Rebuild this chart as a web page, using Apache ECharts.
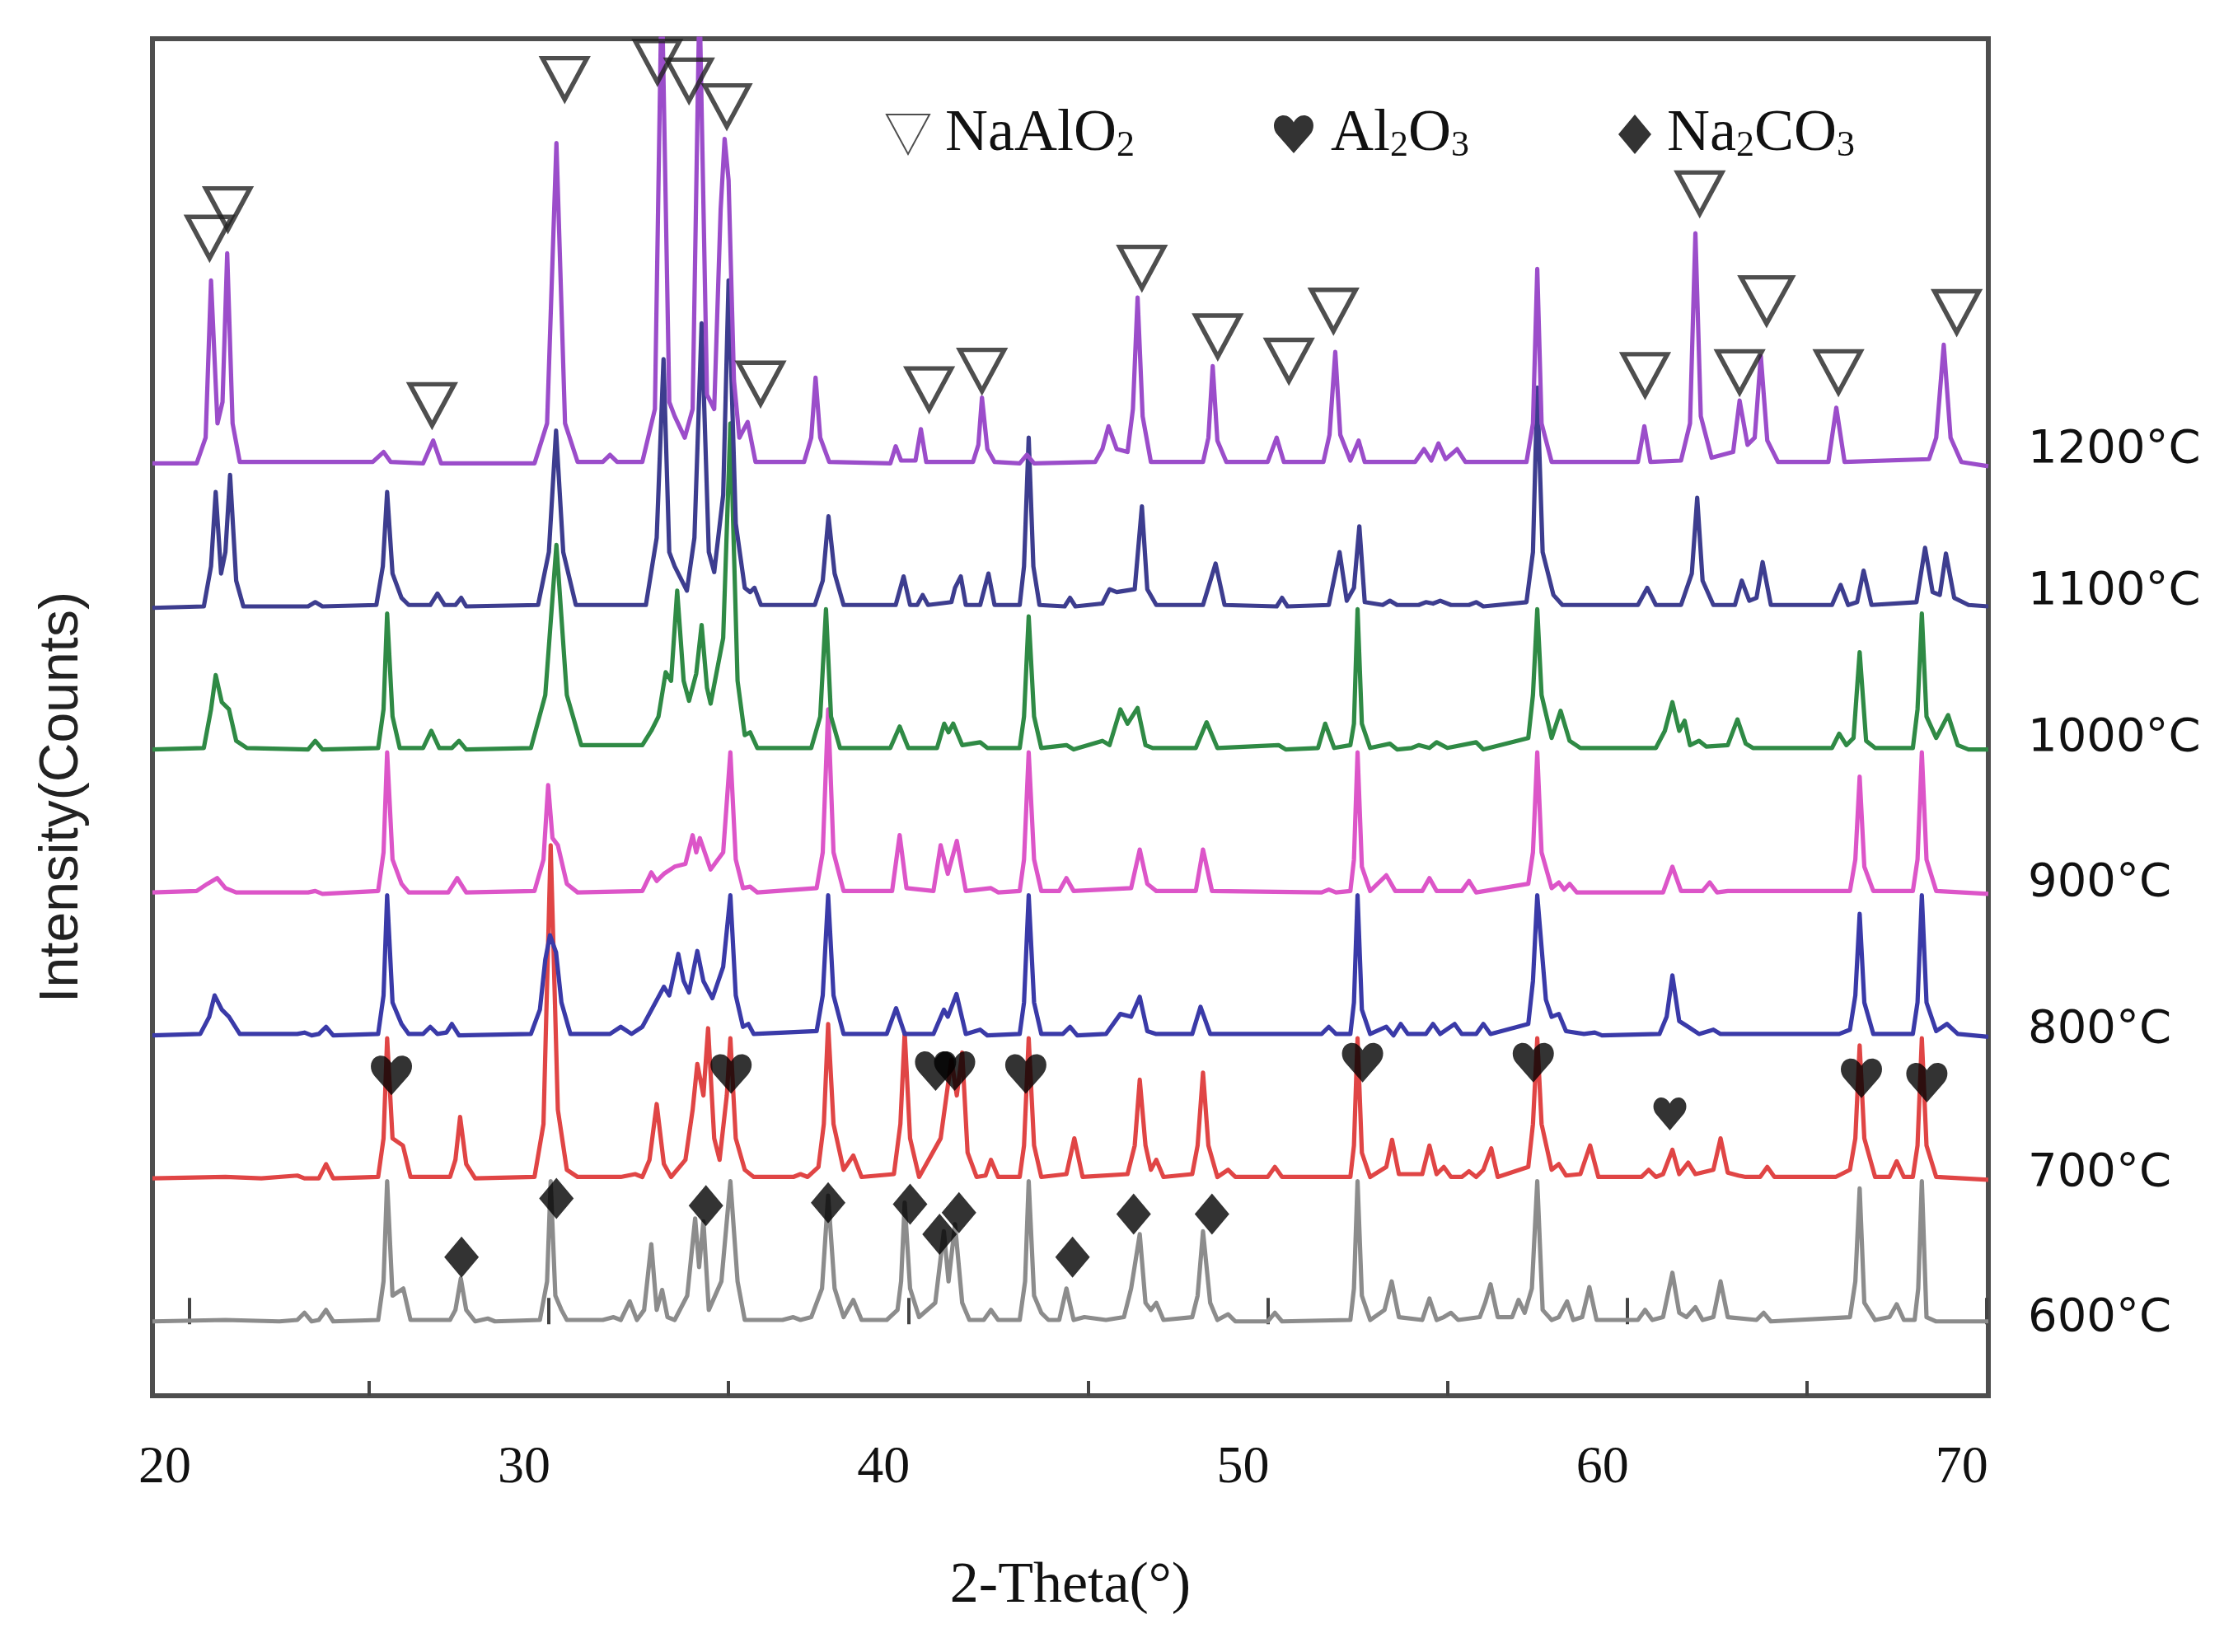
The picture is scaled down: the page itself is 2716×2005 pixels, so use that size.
<!DOCTYPE html>
<html>
<head>
<meta charset="utf-8">
<title>XRD patterns 600-1200°C</title>
<script src="https://cdn.jsdelivr.net/npm/echarts@6.0.0/dist/echarts.min.js"></script>
<style>
  html, body { margin: 0; padding: 0; background: #fff; }
  #chart { width: 2716px; height: 2005px; }
</style>
</head>
<body>
<div id="chart"></div>
<script>
// [2-theta, counts above the pattern's own baseline]
const trace600 = [[18.97,2],[21.0,3],[22.5,2],[23.0,3],[23.2,8],[23.4,2],[23.6,3],[23.8,10],[24.0,2],
  [25.25,3],[25.4,30],[25.5,100],[25.65,20],[25.95,25],[26.15,3],
  [27.25,3],[27.4,10],[27.55,32],[27.7,10],[27.95,2],[28.3,4],[28.5,2],
  [29.75,3],[29.95,30],[30.05,100],[30.18,20],[30.35,10],[30.5,3],
  [31.5,3],[31.8,5],[32.0,3],[32.25,16],[32.45,3],[32.65,10],[32.85,56],[33.0,10],[33.15,24],[33.3,5],[33.5,3],
  [33.85,20],[34.07,74],[34.18,40],[34.3,72],[34.45,10],[34.8,30],[35.05,100],[35.25,30],[35.45,3],
  [36.5,3],[36.8,5],[37.0,3],[37.3,5],[37.6,25],[37.77,90],[37.95,25],[38.2,5],[38.47,17],[38.7,3],
  [39.4,3],[39.7,10],[39.8,30],[39.9,85],[40.05,25],[40.3,5],
  [40.75,15],[40.99,65],[41.12,30],[41.3,70],[41.5,15],[41.7,3],[42.1,3],[42.3,10],[42.5,3],
  [43.1,3],[43.25,30],[43.35,100],[43.5,20],[43.7,8],[43.9,3],
  [44.2,3],[44.4,25],[44.6,3],[44.9,5],[45.5,3],
  [46.0,5],[46.2,25],[46.44,63],[46.6,15],[46.75,10],[46.9,15],[47.1,3],
  [47.9,5],[48.05,20],[48.2,65],[48.4,15],[48.6,3],[48.9,7],[49.1,2],[50.0,2],[50.2,8],[50.4,2],
  [52.3,3],[52.4,25],[52.5,100],[52.62,20],[52.85,3],[53.25,10],[53.45,30],[53.65,5],
  [54.3,3],[54.5,18],[54.7,3],[54.9,5],[55.1,8],[55.3,3],[55.9,5],[56.05,15],[56.2,28],[56.4,5],
  [56.8,5],[56.98,17],[57.15,8],[57.35,25],[57.5,100],[57.65,10],[57.9,3],
  [58.1,5],[58.33,16],[58.5,3],[58.75,5],[58.95,26],[59.15,3],
  [60.3,3],[60.5,10],[60.7,3],[61.0,5],[61.26,36],[61.45,8],[61.65,5],[61.9,12],[62.1,3],[62.4,5],[62.6,30],[62.8,5],[63.6,3],[63.8,8],[64.0,2],
  [66.2,5],[66.35,30],[66.47,95],[66.6,15],[66.9,3],[67.3,5],[67.5,14],[67.7,3],
  [68.0,3],[68.1,25],[68.2,100],[68.33,5],[68.6,2],[70.05,2]];

const trace700 = [[18.97,2],[21.0,3],[22.0,2],[23.0,4],[23.2,2],[23.6,2],[23.8,12],[24.0,2],
  [25.25,3],[25.4,30],[25.5,100],[25.65,30],[25.94,25],[26.15,3],
  [27.25,3],[27.4,15],[27.53,45],[27.7,12],[27.95,2],
  [29.6,3],[29.85,40],[30.05,235],[30.25,50],[30.5,8],[30.8,3],
  [32.0,3],[32.4,5],[32.6,3],[32.8,15],[33.0,54],[33.2,12],[33.4,3],
  [33.8,15],[34.0,50],[34.13,82],[34.3,60],[34.43,107],[34.6,30],[34.75,15],[34.95,60],[35.05,100],[35.2,30],[35.45,8],[35.7,3],[36.0,3],
  [36.8,3],[37.0,5],[37.2,3],[37.5,10],[37.65,40],[37.77,110],[37.92,40],[38.2,8],[38.47,18],[38.7,3],
  [39.6,5],[39.78,40],[39.9,104],[40.05,30],[40.3,3],
  [40.9,30],[41.2,85],[41.35,60],[41.5,90],[41.65,20],[41.9,3],[42.15,4],[42.3,15],[42.5,3],
  [43.1,3],[43.22,25],[43.35,100],[43.5,25],[43.7,3],
  [44.4,5],[44.62,30],[44.85,3],
  [46.1,5],[46.3,25],[46.44,71],[46.6,25],[46.75,8],[46.9,15],[47.1,3],
  [47.9,5],[48.05,25],[48.2,76],[48.35,25],[48.6,3],
  [48.9,8],[49.1,3],[50.0,3],[50.2,10],[50.4,3],[51.0,3],
  [52.3,3],[52.4,25],[52.5,100],[52.62,20],[52.85,3],[53.3,10],[53.46,29],[53.65,5],
  [54.3,5],[54.5,25],[54.7,5],[54.9,10],[55.1,3],[55.4,3],[55.6,7],[55.8,3],[56.0,8],[56.22,23],[56.4,3],
  [57.25,10],[57.38,40],[57.5,100],[57.62,40],[57.9,8],[58.1,12],[58.3,4],[58.7,5],[58.97,25],[59.2,3],
  [60.4,3],[60.6,8],[60.8,3],[61.0,5],[61.26,22],[61.45,5],[61.7,13],[61.9,5],[62.4,8],[62.6,30],[62.8,6],[63.1,4],[63.3,3],[63.7,3],[63.9,10],[64.1,3],
  [65.8,3],[66.2,8],[66.35,30],[66.47,95],[66.6,30],[66.9,3],
  [67.3,3],[67.5,14],[67.7,3],
  [67.95,3],[68.08,25],[68.2,100],[68.33,25],[68.6,3],[70.05,1]];

const trace800 = [[18.97,2],[20.3,3],[20.55,15],[20.7,30],[20.9,20],[21.1,15],[21.4,3],
  [23.0,3],[23.2,4],[23.4,2],[23.6,3],[23.8,8],[24.0,2],
  [25.25,3],[25.4,30],[25.5,100],[25.65,25],[25.9,10],[26.1,3],[26.5,3],[26.7,8],[26.9,3],[27.15,4],[27.3,10],[27.5,2],
  [29.5,3],[29.75,20],[29.9,55],[30.03,72],[30.2,60],[30.35,25],[30.6,3],
  [31.7,3],[32.0,8],[32.3,3],[32.6,8],[32.9,22],[33.2,36],[33.35,30],[33.6,59],[33.75,40],[33.9,32],[34.13,61],[34.3,40],[34.55,28],[34.85,50],[35.05,100],[35.2,30],[35.4,8],[35.55,10],[35.7,3],
  [37.45,5],[37.62,30],[37.77,100],[37.92,30],[38.2,3],
  [39.4,3],[39.66,21],[39.9,3],[40.7,3],[40.99,20],[41.1,15],[41.34,31],[41.6,3],[42.0,6],[42.2,2],
  [43.1,3],[43.22,25],[43.35,100],[43.5,25],[43.7,3],
  [44.3,3],[44.5,8],[44.7,2],[45.5,3],[45.9,17],[46.2,15],[46.44,29],[46.65,5],[46.9,3],
  [47.9,3],[48.13,22],[48.4,3],
  [51.5,3],[51.7,8],[51.9,3],[52.3,3],[52.4,25],[52.5,100],[52.62,20],[52.85,3],[53.3,8],[53.5,2],
  [53.7,10],[53.9,3],[54.4,3],[54.6,10],[54.8,3],[55.2,10],[55.4,3],[55.8,3],[56.0,10],[56.2,3],
  [57.25,10],[57.38,40],[57.5,100],[57.74,27],[57.9,15],[58.1,17],[58.3,5],[58.8,3],[59.1,4],[59.3,2],
  [60.9,3],[61.1,15],[61.26,44],[61.45,12],[61.7,8],[62.0,3],[62.4,6],[62.6,3],[63.5,3],
  [65.9,3],[66.2,6],[66.35,30],[66.47,87],[66.6,25],[66.85,3],
  [67.95,3],[68.08,25],[68.2,100],[68.33,25],[68.6,5],[68.9,10],[69.2,3],[70.05,1]];

const trace900 = [[18.97,2],[20.2,3],[20.5,8],[20.77,12],[21.0,5],[21.3,2],
  [23.3,2],[23.5,3],[23.7,1],
  [25.25,3],[25.4,30],[25.5,100],[25.65,25],[25.9,8],[26.1,2],
  [27.2,2],[27.45,12],[27.7,2],
  [29.6,3],[29.85,25],[29.98,77],[30.1,40],[30.25,35],[30.5,8],[30.8,2],
  [32.6,3],[32.85,16],[33.0,10],[33.2,15],[33.5,20],[33.8,22],[34.0,42],[34.1,30],[34.2,40],[34.5,18],[34.85,30],[35.05,100],[35.2,25],[35.4,5],[35.6,6],[35.8,2],
  [37.45,5],[37.62,30],[37.77,130],[37.92,30],[38.2,3],
  [39.55,3],[39.76,42],[39.95,5],[40.7,3],[40.9,35],[41.1,15],[41.35,38],[41.6,3],[42.3,5],[42.5,2],
  [43.1,3],[43.22,25],[43.35,100],[43.5,25],[43.7,3],
  [44.2,3],[44.4,12],[44.6,3],[46.2,5],[46.44,32],[46.65,8],[46.9,3],[48.0,3],[48.2,32],[48.45,3],
  [51.5,2],[51.7,4],[51.9,2],[52.3,3],[52.4,25],[52.5,100],[52.62,20],[52.85,3],[53.3,14],[53.55,3],
  [54.3,3],[54.5,12],[54.7,3],[55.4,3],[55.6,10],[55.8,2],
  [57.25,8],[57.38,30],[57.5,100],[57.62,30],[57.9,5],[58.1,9],[58.25,4],[58.4,8],[58.6,2],
  [61.0,2],[61.26,20],[61.5,3],[62.1,3],[62.3,9],[62.5,2],[62.8,3],
  [66.2,3],[66.35,25],[66.47,83],[66.6,20],[66.85,3],
  [67.95,3],[68.08,25],[68.2,100],[68.33,25],[68.6,3],[70.05,1]];

const trace1000 = [[18.97,2],[20.4,3],[20.6,30],[20.73,54],[20.9,35],[21.1,30],[21.3,8],[21.6,3],
  [23.3,2],[23.5,8],[23.7,2],
  [25.25,3],[25.4,30],[25.5,97],[25.65,25],[25.85,3],[26.5,3],[26.73,15],[26.95,3],[27.3,3],[27.5,8],[27.7,2],
  [29.5,3],[29.9,40],[30.21,145],[30.5,40],[30.9,5],
  [32.6,5],[32.85,15],[33.05,25],[33.25,56],[33.4,50],[33.57,113],[33.75,50],[33.9,36],[34.1,55],[34.25,89],[34.4,45],[34.5,34],[34.85,80],[35.05,230],[35.25,50],[35.45,12],[35.6,14],[35.8,3],
  [37.3,3],[37.55,25],[37.71,100],[37.85,25],[38.1,3],
  [39.5,3],[39.76,18],[40.0,3],[40.8,3],[41.0,20],[41.12,14],[41.25,20],[41.5,5],[42.0,7],[42.2,3],
  [43.1,3],[43.22,25],[43.35,95],[43.5,25],[43.7,3],
  [44.4,5],[44.6,2],[45.4,8],[45.6,5],[45.9,30],[46.1,20],[46.38,31],[46.6,5],[46.8,3],
  [48.0,3],[48.3,21],[48.6,3],
  [50.3,5],[50.5,2],[51.4,3],[51.6,20],[51.85,3],
  [52.3,5],[52.4,20],[52.5,100],[52.62,20],[52.85,3],[53.4,6],[53.6,2],
  [54.0,3],[54.2,5],[54.5,3],[54.7,7],[55.0,3],[55.8,7],[56.0,2],
  [57.25,10],[57.38,40],[57.5,100],[57.62,40],[57.9,10],[58.15,29],[58.4,8],[58.7,3],
  [60.8,3],[61.05,15],[61.26,35],[61.45,15],[61.6,22],[61.75,5],[62.0,8],[62.2,4],[62.8,5],[63.07,23],[63.3,6],[63.5,3],
  [65.7,3],[65.9,13],[66.1,5],[66.3,10],[66.47,70],[66.65,8],[66.9,3],
  [67.95,3],[68.08,30],[68.2,97],[68.33,25],[68.6,10],[68.93,26],[69.2,5],[69.5,2],[70.05,2]];

const trace1100 = [[18.97,1],[20.4,2],[20.6,30],[20.73,82],[20.88,25],[21.0,40],[21.13,94],[21.3,20],[21.5,2],
  [23.3,2],[23.5,5],[23.7,2],
  [25.2,3],[25.38,30],[25.5,82],[25.65,25],[25.9,8],[26.1,3],[26.7,3],[26.9,11],[27.1,3],[27.4,3],[27.56,8],[27.7,2],
  [29.7,3],[30.0,40],[30.2,125],[30.4,40],[30.75,3],
  [32.7,3],[33.0,50],[33.19,175],[33.35,40],[33.5,30],[33.84,13],[34.05,50],[34.25,200],[34.45,40],[34.6,26],[34.85,80],[35.0,230],[35.2,60],[35.45,15],[35.6,12],[35.72,15],[35.9,3],
  [37.4,3],[37.62,20],[37.78,65],[37.95,25],[38.2,3],
  [39.65,3],[39.87,23],[40.05,3],[40.25,3],[40.4,10],[40.55,3],[41.2,5],[41.3,15],[41.46,23],[41.6,3],[42.0,3],[42.23,25],[42.4,3],
  [43.1,3],[43.22,30],[43.35,120],[43.48,30],[43.65,3],
  [44.35,2],[44.5,8],[44.65,2],[45.4,4],[45.6,14],[45.8,12],[46.3,14],[46.5,72],[46.65,14],[46.9,3],
  [48.2,3],[48.55,32],[48.8,3],
  [50.25,2],[50.4,8],[50.55,2],
  [51.7,3],[52.0,40],[52.2,6],[52.4,15],[52.55,58],[52.7,5],
  [53.2,3],[53.4,6],[53.6,3],[54.2,3],[54.4,5],[54.6,4],[54.8,6],[55.1,3],[55.6,3],[55.8,5],[56.0,2],
  [57.2,5],[57.38,40],[57.5,155],[57.65,40],[57.95,10],[58.2,3],
  [60.3,3],[60.56,15],[60.8,3],[61.5,3],[61.8,25],[61.95,78],[62.1,20],[62.4,3],
  [63.0,3],[63.19,20],[63.4,6],[63.6,8],[63.77,33],[64.0,3],
  [65.7,3],[65.94,17],[66.15,3],[66.4,5],[66.58,27],[66.8,3],
  [68.05,5],[68.29,43],[68.5,12],[68.7,10],[68.87,39],[69.1,8],[69.5,3],[70.05,2]];

const trace1200 = [[18.97,2],[20.2,2],[20.45,20],[20.6,130],[20.78,30],[20.92,45],[21.05,149],[21.2,30],[21.4,3],
  [23.6,3],[25.1,3],[25.4,10],[25.6,3],
  [26.5,2],[26.78,18],[27.0,2],
  [29.6,2],[29.95,30],[30.21,226],[30.45,30],[30.8,3],
  [31.5,3],[31.7,8],[31.9,3],
  [32.6,3],[32.95,40],[33.14,340],[33.35,45],[33.5,35],[33.78,20],[34.0,40],[34.19,330],[34.4,50],[34.6,40],[34.78,180],[34.89,229],[35.0,200],[35.15,60],[35.3,20],[35.53,31],[35.75,3],
  [37.1,3],[37.3,20],[37.42,62],[37.55,20],[37.8,3],
  [39.5,2],[39.65,14],[39.8,4],[40.2,4],[40.35,26],[40.5,3],
  [41.8,3],[41.95,15],[42.05,48],[42.2,12],[42.4,3],
  [43.1,2],[43.3,8],[43.5,2],
  [45.2,3],[45.4,12],[45.57,28],[45.8,12],[46.1,10],[46.25,40],[46.38,118],[46.52,35],[46.75,3],
  [48.2,3],[48.35,20],[48.47,70],[48.6,18],[48.85,3],
  [50.0,3],[50.25,20],[50.45,3],
  [51.55,3],[51.72,22],[51.88,80],[52.02,22],[52.3,4],[52.53,18],[52.7,3],
  [54.1,3],[54.35,12],[54.55,4],[54.75,16],[54.95,5],[55.27,12],[55.5,3],
  [57.2,3],[57.38,30],[57.5,138],[57.62,30],[57.9,3],
  [60.3,3],[60.48,28],[60.65,3],
  [61.5,4],[61.75,30],[61.9,163],[62.05,35],[62.35,6],
  [62.95,10],[63.13,46],[63.35,15],[63.55,20],[63.72,77],[63.9,18],[64.2,3],
  [65.6,3],[65.82,41],[66.05,3],
  [68.4,5],[68.6,20],[68.81,85],[69.0,20],[69.3,3],[70.05,0]];

const temps = ['600°C', '700°C', '800°C', '900°C', '1000°C', '1100°C', '1200°C'];
const traces = [trace600, trace700, trace800, trace900, trace1000, trace1100, trace1200];
// vertical stacking of the patterns, in counts
const baselineOffsets = [0, 100, 200, 300, 400, 500, 600];
const traceColors = ['#8c8c8c', '#e04545', '#3a3aa8', '#dc55c8', '#2f8a45', '#3d3d8f', '#9b4dca'];
const labelShift = [-3, -7, -8, -12, -13, -18, -19];

// phase markers [2-theta, stacked counts]
const naAlO2Marks = [[20.56,760],[21.07,780],[26.75,643],[30.44,871],[33.02,883],[33.9,870],[34.95,852],
  [35.89,658],[40.58,654],[42.05,667],[46.5,739],[48.61,691],[50.59,674],[51.83,709],
  [62.02,791],[60.5,664],[63.88,716],[63.13,666],[65.88,666],[69.17,708]];
const al2o3Marks = [[25.62,174],[35.07,175],[40.76,177],[41.29,177],[43.27,175],[52.64,183],
  [57.39,183],[61.19,147],[66.52,172],[68.34,169]];
const na2co3Marks = [[27.57,47],[30.21,88],[34.37,83],[37.77,85],[40.05,84],[40.87,63],
  [41.41,78],[44.57,47],[46.27,77],[48.45,77]];

const majorTicks = [20, 30, 40, 50, 60, 70];
const minorTicks = [25, 35, 45, 55, 65];

const trianglePath = 'path://M0,0L100,0L50,92Z';
const heartPath = 'path://M50,95L12,52C0,39 0,18 14,9C28,1 42,8 50,22C58,8 72,1 86,9C100,18 100,39 88,52Z';

const chart = echarts.init(document.getElementById('chart'));

const serif = "'Liberation Serif', 'Times New Roman', serif";

const toRich = (name) => name.split(/(\d)/).filter(Boolean)
  .map(p => /\d/.test(p) ? `{s|${p}}` : `{b|${p}}`).join('');

const legendText = (pad) => ({
  color: '#111',
  fontFamily: serif,
  fontSize: 72,
  padding: [0, 0, 0, pad],
  rich: {
    b: { fontFamily: serif, fontSize: 72, lineHeight: 72, color: '#111' },
    s: { fontFamily: serif, fontSize: 44, lineHeight: 30, verticalAlign: 'bottom', color: '#111' }
  }
});

const lineSeries = traces.map((pts, i) => ({
  name: temps[i],
  type: 'line',
  showSymbol: false,
  clip: true,
  data: pts.map(([x, y]) => [x, y + baselineOffsets[i]]),
  lineStyle: { width: 5.2, color: traceColors[i], join: 'round' },
  itemStyle: { color: traceColors[i] },
  endLabel: {
    show: true,
    formatter: temps[i],
    color: '#111',
    fontFamily: "'DejaVu Sans', Verdana, sans-serif",
    fontSize: 56,
    distance: 48,
    offset: [0, labelShift[i]]
  },
  emphasis: { disabled: true },
  z: 2
}));

const markerSeries = [
  {
    name: 'NaAlO2',
    type: 'scatter',
    symbol: trianglePath,
    symbolSize: (v, p) => p.dataIndex === 16 ? [62, 56] : [54, 50],
    data: naAlO2Marks,
    itemStyle: { color: 'rgba(255,255,255,0)', borderColor: '#222', borderWidth: 5.5 },
    emphasis: { disabled: true },
    z: 5
  },
  {
    name: 'Al2O3',
    type: 'scatter',
    symbol: heartPath,
    symbolSize: (v, p) => p.dataIndex === 7 ? [40, 40] : [50, 48],
    data: al2o3Marks,
    itemStyle: { color: '#000' },
    emphasis: { disabled: true },
    z: 5
  },
  {
    name: 'Na2CO3',
    type: 'scatter',
    symbol: 'diamond',
    symbolSize: [42, 50],
    data: na2co3Marks,
    itemStyle: { color: '#000' },
    emphasis: { disabled: true },
    z: 5
  }
];

chart.setOption({
  animation: false,
  backgroundColor: '#fff',
  grid: {
    left: 185, right: 303, top: 47, bottom: 311,
    show: true, borderColor: '#4e4e4e', borderWidth: 6
  },
  legend: [
    { data: ['NaAlO2'], left: 1070, top: 122, itemWidth: 52, itemHeight: 48,
      selectedMode: false, formatter: toRich, textStyle: legendText(14) },
    { data: ['Al2O3'], left: 1541, top: 122, itemWidth: 48, itemHeight: 48,
      selectedMode: false, formatter: toRich, textStyle: legendText(16) },
    { data: ['Na2CO3'], left: 1959, top: 122, itemWidth: 40, itemHeight: 48,
      selectedMode: false, formatter: toRich, textStyle: legendText(14) }
  ],
  xAxis: [
    {
      type: 'value',
      min: 18.97,
      max: 70.05,
      position: 'bottom',
      axisLine: { show: false },
      splitLine: { show: false },
      axisTick: {
        show: true, inside: true, length: 32, customValues: majorTicks,
        lineStyle: { color: '#444', width: 4 }
      },
      axisLabel: {
        customValues: majorTicks,
        margin: 56,
        color: '#111',
        fontFamily: serif,
        fontSize: 64,
        padding: [0, 60, 0, 0]
      },
      name: '2-Theta(°)',
      nameLocation: 'middle',
      nameGap: 197,
      nameTextStyle: { color: '#111', fontFamily: serif, fontSize: 70 }
    },
    {
      type: 'value',
      min: 18.97,
      max: 70.05,
      position: 'bottom',
      axisLine: { show: false },
      splitLine: { show: false },
      axisLabel: { show: false },
      axisTick: {
        show: true, inside: true, length: 18, customValues: minorTicks,
        lineStyle: { color: '#444', width: 4 }
      }
    }
  ],
  yAxis: {
    type: 'value',
    min: -50,
    max: 899,
    axisLine: { show: false },
    axisTick: { show: false },
    axisLabel: { show: false },
    splitLine: { show: false },
    name: 'Intensity(Counts)',
    nameLocation: 'middle',
    nameGap: 76,
    nameTextStyle: {
      color: '#222',
      fontFamily: "'Liberation Sans', Arial, sans-serif",
      fontSize: 66,
      padding: [0, 194, 0, 0]
    }
  },
  series: [...lineSeries, ...markerSeries]
});

window.addEventListener('resize', () => chart.resize());
</script>
</body>
</html>
